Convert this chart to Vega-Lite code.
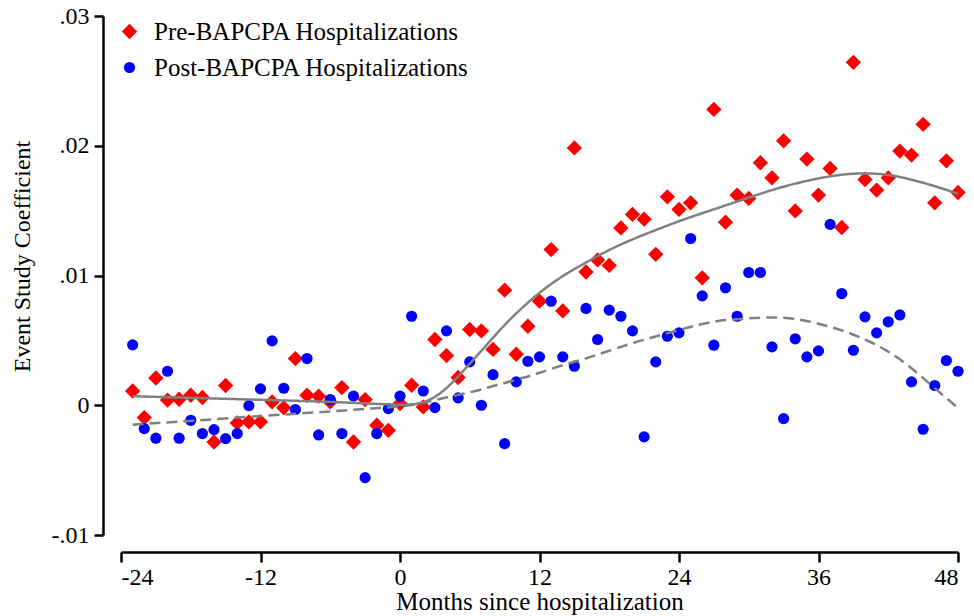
{
  "$schema": "https://vega.github.io/schema/vega-lite/v6.json",
  "width": 837,
  "height": 519,
  "autosize": {"type": "none"},
  "padding": {"left": 121, "top": 16, "right": 16, "bottom": 81},
  "background": "white",
  "config": {
    "view": {"stroke": null},
    "font": "Liberation Serif",
    "axis": {
      "labelFont": "Liberation Serif",
      "titleFont": "Liberation Serif",
      "labelFontSize": 24,
      "titleFontSize": 25,
      "labelColor": "#000000",
      "titleColor": "#000000",
      "titleFontWeight": "normal",
      "domainColor": "#000000",
      "domainWidth": 2.5,
      "tickColor": "#000000",
      "tickWidth": 2.5,
      "grid": false
    },
    "legend": {
      "labelFont": "Liberation Serif",
      "labelFontSize": 25,
      "labelColor": "#000000",
      "labelLimit": 0
    }
  },
  "datasets": {
    "pts": [
      {"m": -23, "pre": 0.0011, "post": 0.00465},
      {"m": -22, "pre": -0.00095, "post": -0.0018},
      {"m": -21, "pre": 0.0021, "post": -0.00254},
      {"m": -20, "pre": 0.0004, "post": 0.00262},
      {"m": -19, "pre": 0.00046, "post": -0.00254},
      {"m": -18, "pre": 0.00077, "post": -0.00116},
      {"m": -17, "pre": 0.0006, "post": -0.00218},
      {"m": -16, "pre": -0.00283, "post": -0.00188},
      {"m": -15, "pre": 0.00152, "post": -0.00257},
      {"m": -14, "pre": -0.00136, "post": -0.00218},
      {"m": -13, "pre": -0.00128, "post": -0.00003},
      {"m": -12, "pre": -0.00128, "post": 0.00126},
      {"m": -11, "pre": 0.00026, "post": 0.00496},
      {"m": -10, "pre": -0.0002, "post": 0.00131},
      {"m": -9, "pre": 0.0036, "post": -0.00033},
      {"m": -8, "pre": 0.00077, "post": 0.0036},
      {"m": -7, "pre": 0.0007, "post": -0.00229},
      {"m": -6, "pre": 0.00026, "post": 0.00044},
      {"m": -5, "pre": 0.00136, "post": -0.00218},
      {"m": -4, "pre": -0.00283, "post": 0.0007},
      {"m": -3, "pre": 0.00044, "post": -0.00558},
      {"m": -2, "pre": -0.00154, "post": -0.00218},
      {"m": -1, "pre": -0.00193, "post": -0.00026},
      {"m": 0, "pre": 0.00013, "post": 0.0007},
      {"m": 1, "pre": 0.00154, "post": 0.00686},
      {"m": 2, "pre": -0.00013, "post": 0.0011},
      {"m": 3, "pre": 0.00507, "post": -0.00018},
      {"m": 4, "pre": 0.00383, "post": 0.00573},
      {"m": 5, "pre": 0.00214, "post": 0.00057},
      {"m": 6, "pre": 0.00584, "post": 0.00334},
      {"m": 7, "pre": 0.00573, "post": 0.0},
      {"m": 8, "pre": 0.0043, "post": 0.00236},
      {"m": 9, "pre": 0.00887, "post": -0.00296},
      {"m": 10, "pre": 0.00393, "post": 0.0018},
      {"m": 11, "pre": 0.00609, "post": 0.00339},
      {"m": 12, "pre": 0.00802, "post": 0.00373},
      {"m": 13, "pre": 0.012, "post": 0.00802},
      {"m": 14, "pre": 0.00727, "post": 0.00373},
      {"m": 15, "pre": 0.01983, "post": 0.00301},
      {"m": 16, "pre": 0.01027, "post": 0.00746},
      {"m": 17, "pre": 0.0112, "post": 0.00507},
      {"m": 18, "pre": 0.01078, "post": 0.00733},
      {"m": 19, "pre": 0.01367, "post": 0.00686},
      {"m": 20, "pre": 0.01471, "post": 0.00573},
      {"m": 21, "pre": 0.01434, "post": -0.00244},
      {"m": 22, "pre": 0.01163, "post": 0.00334},
      {"m": 23, "pre": 0.01606, "post": 0.00532},
      {"m": 24, "pre": 0.01509, "post": 0.00558},
      {"m": 25, "pre": 0.0156, "post": 0.01285},
      {"m": 26, "pre": 0.00982, "post": 0.00843},
      {"m": 27, "pre": 0.0228, "post": 0.00463},
      {"m": 28, "pre": 0.01411, "post": 0.00905},
      {"m": 29, "pre": 0.0162, "post": 0.00686},
      {"m": 30, "pre": 0.01594, "post": 0.01023},
      {"m": 31, "pre": 0.01869, "post": 0.01023},
      {"m": 32, "pre": 0.01753, "post": 0.0045},
      {"m": 33, "pre": 0.02038, "post": -0.00103},
      {"m": 34, "pre": 0.01498, "post": 0.00512},
      {"m": 35, "pre": 0.01897, "post": 0.00373},
      {"m": 36, "pre": 0.0162, "post": 0.00419},
      {"m": 37, "pre": 0.01825, "post": 0.01394},
      {"m": 38, "pre": 0.0137, "post": 0.00861},
      {"m": 39, "pre": 0.02643, "post": 0.00424},
      {"m": 40, "pre": 0.0174, "post": 0.00681},
      {"m": 41, "pre": 0.01658, "post": 0.00558},
      {"m": 42, "pre": 0.01753, "post": 0.00643},
      {"m": 43, "pre": 0.01959, "post": 0.00696},
      {"m": 44, "pre": 0.01928, "post": 0.0018},
      {"m": 45, "pre": 0.02165, "post": -0.00185},
      {"m": 46, "pre": 0.0156, "post": 0.00152},
      {"m": 47, "pre": 0.01884, "post": 0.00345},
      {"m": 48, "pre": 0.0164, "post": 0.00262}
    ],
    "fits": [
      {"m": -23, "pre": 0.0007, "post": -0.0015},
      {"m": -18, "pre": 0.00057, "post": -0.0012},
      {"m": -12, "pre": 0.00042, "post": -0.00083},
      {"m": -6, "pre": 0.00027, "post": -0.00048},
      {"m": -2, "pre": 0.0001, "post": -0.00022},
      {"m": 0, "pre": 0.00003, "post": -0.0001},
      {"m": 1, "pre": 0.00005, "post": 0.0},
      {"m": 2, "pre": 0.0002, "post": 0.0002},
      {"m": 3, "pre": 0.0006, "post": 0.0004},
      {"m": 4, "pre": 0.0013, "post": 0.0006},
      {"m": 5, "pre": 0.0022, "post": 0.0008},
      {"m": 6, "pre": 0.0032, "post": 0.001},
      {"m": 7, "pre": 0.0042, "post": 0.0012},
      {"m": 8, "pre": 0.0052, "post": 0.0015},
      {"m": 9, "pre": 0.0062, "post": 0.0017},
      {"m": 10, "pre": 0.0071, "post": 0.002},
      {"m": 11, "pre": 0.0079, "post": 0.0022},
      {"m": 12, "pre": 0.0087, "post": 0.0025},
      {"m": 14, "pre": 0.01, "post": 0.0031},
      {"m": 16, "pre": 0.011, "post": 0.0036},
      {"m": 18, "pre": 0.012, "post": 0.0042},
      {"m": 20, "pre": 0.0128, "post": 0.0048},
      {"m": 22, "pre": 0.0135, "post": 0.0053},
      {"m": 24, "pre": 0.0142, "post": 0.0058},
      {"m": 26, "pre": 0.0148, "post": 0.0063},
      {"m": 28, "pre": 0.0154, "post": 0.0066},
      {"m": 30, "pre": 0.016, "post": 0.0067},
      {"m": 32, "pre": 0.0166, "post": 0.0068},
      {"m": 34, "pre": 0.0171, "post": 0.0067},
      {"m": 36, "pre": 0.0175, "post": 0.0063},
      {"m": 38, "pre": 0.0178, "post": 0.0058},
      {"m": 40, "pre": 0.0179, "post": 0.0051},
      {"m": 42, "pre": 0.0178, "post": 0.0042},
      {"m": 44, "pre": 0.0174, "post": 0.0029},
      {"m": 46, "pre": 0.0169, "post": 0.0013},
      {"m": 48, "pre": 0.0163, "post": -0.0002}
    ]
  },
  "layer": [
    {
      "mark": {"type": "rule", "color": "#2a2a2a", "strokeWidth": 2.5},
      "encoding": {
        "x": {"datum": -25.55, "type": "quantitative"},
        "x2": {"datum": 49.4},
        "y": {"datum": 0, "type": "quantitative"}
      }
    },
    {
      "data": {"name": "pts"},
      "transform": [{"fold": ["pre", "post"], "as": ["series", "coef"]}],
      "mark": {"type": "point", "filled": true, "opacity": 1, "strokeWidth": 0},
      "encoding": {
        "x": {
          "field": "m",
          "type": "quantitative",
          "scale": {"domain": [-24, 48], "nice": false, "zero": false},
          "axis": {
            "values": [-24, -12, 0, 12, 24, 36, 48],
            "labelExpr": "replace(datum.label, '\u2212', '-')",
            "offset": 17,
            "tickSize": 10,
            "labelPadding": 3,
            "title": "Months since hospitalization",
            "titlePadding": 0
          }
        },
        "y": {
          "field": "coef",
          "type": "quantitative",
          "scale": {"domain": [-0.01, 0.03], "nice": false, "zero": false},
          "axis": {
            "values": [-0.01, 0, 0.01, 0.02, 0.03],
            "labelExpr": "datum.value == 0 ? '0' : replace(replace(format(datum.value, '.2f'), '0.', '.'), '\u2212', '-')",
            "offset": 18,
            "tickSize": 9,
            "labelPadding": 5,
            "title": "Event Study Coefficient",
            "titleX": -81,
            "titleY": 240,
            "titleFontSize": 24,
            "titleBaseline": "middle",
            "titleAlign": "center"
          }
        },
        "color": {
          "field": "series",
          "type": "nominal",
          "scale": {"domain": ["pre", "post"], "range": ["#ff0000", "#0000ff"]},
          "legend": {
            "title": null,
            "orient": "none",
            "legendX": -4,
            "legendY": 3,
            "rowPadding": 10,
            "labelOffset": 12,
            "labelExpr": "datum.value == 'pre' ? 'Pre-BAPCPA Hospitalizations' : 'Post-BAPCPA Hospitalizations'"
          }
        },
        "shape": {
          "field": "series",
          "type": "nominal",
          "scale": {"domain": ["pre", "post"], "range": ["diamond", "circle"]}
        },
        "size": {
          "field": "series",
          "type": "nominal",
          "scale": {"domain": ["pre", "post"], "range": [235, 125]}
        }
      }
    },
    {
      "data": {"name": "fits"},
      "transform": [{"fold": ["pre", "post"], "as": ["fitseries", "fit"]}],
      "mark": {"type": "line", "color": "#808080", "strokeWidth": 2.5, "interpolate": "basis"},
      "encoding": {
        "x": {"field": "m", "type": "quantitative"},
        "y": {"field": "fit", "type": "quantitative"},
        "detail": {"field": "fitseries", "type": "nominal"},
        "strokeDash": {
          "field": "fitseries",
          "type": "nominal",
          "scale": {"domain": ["pre", "post"], "range": [[1, 0], [11, 6]]},
          "legend": null
        }
      }
    }
  ]
}
